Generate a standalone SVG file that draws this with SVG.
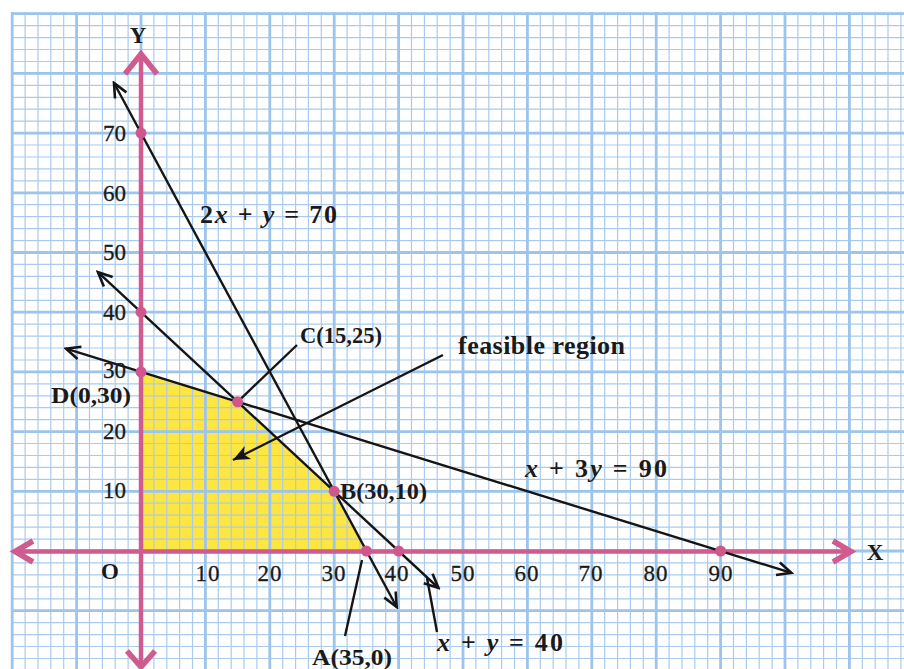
<svg xmlns="http://www.w3.org/2000/svg" width="904" height="669" viewBox="0 0 904 669">
<defs>
<style>
.minor{stroke:#aacbee;stroke-width:1.2;fill:none}
.major{stroke:#9cc4ec;stroke-width:2.8;fill:none}
.axis{stroke:#cf5b8f;stroke-width:4.5;fill:none}
.axhead{stroke:#cf5b8f;stroke-width:5.5;fill:none;stroke-linejoin:miter;stroke-linecap:butt}
.ln{stroke:#151515;stroke-width:2.4;fill:none}
.ptr{stroke:#151515;stroke-width:2.4;fill:none}
.pt{fill:#d0578d}
.tick{font-family:"Liberation Serif",serif;font-size:23px;fill:#1a1a1a;stroke:#1a1a1a;stroke-width:0.3}
.lbl{font-family:"Liberation Serif",serif;font-size:23px;font-weight:bold;fill:#1a1a1a}
.eq{font-family:"Liberation Serif",serif;font-size:26px;font-weight:bold;fill:#1a1a1a}
.it{font-style:italic}
</style>
<marker id="open" markerUnits="userSpaceOnUse" markerWidth="20" markerHeight="20" viewBox="-15 -8 17 16" refX="0" refY="0" orient="auto-start-reverse">
<path d="M-12,-5.5 L0,0 L-12,5.5" fill="none" stroke="#151515" stroke-width="2.2"/>
</marker>
<marker id="solid" markerUnits="userSpaceOnUse" markerWidth="20" markerHeight="20" viewBox="-16 -8 18 16" refX="0" refY="0" orient="auto">
<path d="M-15,-6.5 L0,0 L-15,6.5 L-11,0 Z" fill="#151515"/>
</marker>
</defs>
<rect width="904" height="669" fill="#ffffff"/>
<g id="feasible-region">
<polygon points="141,551 366.4,551 334.2,491.3 237.6,401.8 141,371.9" fill="#fde542"/>
</g>
<g id="grid">
<path class="minor" d="M25.1 12V669M38 12V669M50.8 12V669M63.7 12V669M89.5 12V669M102.4 12V669M115.2 12V669M128.1 12V669M153.9 12V669M166.8 12V669M179.6 12V669M192.5 12V669M218.3 12V669M231.2 12V669M244 12V669M256.9 12V669M282.7 12V669M295.6 12V669M308.4 12V669M321.3 12V669M347.1 12V669M360 12V669M372.8 12V669M385.7 12V669M411.5 12V669M424.4 12V669M437.2 12V669M450.1 12V669M475.9 12V669M488.8 12V669M501.6 12V669M514.5 12V669M540.3 12V669M553.2 12V669M566 12V669M578.9 12V669M604.7 12V669M617.6 12V669M630.4 12V669M643.3 12V669M669.1 12V669M682 12V669M694.8 12V669M707.7 12V669M733.5 12V669M746.4 12V669M759.2 12V669M772.1 12V669M797.9 12V669M810.8 12V669M823.6 12V669M836.5 12V669M862.3 12V669M875.2 12V669M888 12V669M900.9 12V669"/>
<path class="minor" d="M11 25.6H904M11 37.6H904M11 49.5H904M11 61.5H904M11 85.3H904M11 97.3H904M11 109.2H904M11 121.2H904M11 145H904M11 157H904M11 168.9H904M11 180.9H904M11 204.7H904M11 216.7H904M11 228.6H904M11 240.6H904M11 264.4H904M11 276.4H904M11 288.3H904M11 300.3H904M11 324.1H904M11 336.1H904M11 348H904M11 360H904M11 383.8H904M11 395.8H904M11 407.7H904M11 419.7H904M11 443.5H904M11 455.5H904M11 467.4H904M11 479.4H904M11 503.2H904M11 515.2H904M11 527.1H904M11 539.1H904M11 562.9H904M11 574.9H904M11 586.8H904M11 598.8H904M11 622.6H904M11 634.6H904M11 646.5H904M11 658.5H904"/>
<path class="major" d="M12.2 12V669M76.6 12V669M141 12V669M205.4 12V669M269.8 12V669M334.2 12V669M398.6 12V669M463 12V669M527.4 12V669M591.8 12V669M656.2 12V669M720.6 12V669M785 12V669M849.4 12V669"/>
<path class="major" d="M11 13.7H904M11 73.4H904M11 133.1H904M11 192.8H904M11 252.5H904M11 312.2H904M11 371.9H904M11 431.6H904M11 491.3H904M11 551H904M11 610.7H904"/>
</g>
<g id="axes">
<path class="axis" d="M15 551.5H851M141 54V667"/>
<polyline class="axhead" points="33,541 15,551.5 33,562"/>
<polyline class="axhead" points="833,541 851,551.5 833,562"/>
<polyline class="axhead" points="125,74 141,54 157,74"/>
<polyline class="axhead" points="127,651 141,667 155,651"/>
</g>
<g id="connectors">
<line class="ln" x1="114" y1="83" x2="396.7" y2="607" marker-start="url(#open)" marker-end="url(#open)"/>
<line class="ln" x1="97.9" y1="272.2" x2="438.5" y2="588" marker-start="url(#open)" marker-end="url(#open)"/>
<line class="ln" x1="66" y1="348.7" x2="791.4" y2="572.9" marker-start="url(#open)" marker-end="url(#open)"/>
<line class="ptr" x1="237.6" y1="401.8" x2="297" y2="345"/>
<line class="ptr" x1="443" y1="355" x2="233" y2="460" marker-end="url(#solid)"/>
<line class="ptr" x1="345" y1="636" x2="362" y2="560"/>
<line class="ptr" x1="437" y1="632" x2="427" y2="578"/>
</g>
<g id="points">
<circle class="pt" cx="141" cy="133.1" r="5.5"/>
<circle class="pt" cx="141" cy="312.2" r="5.5"/>
<circle class="pt" cx="141" cy="371.9" r="5.5"/>
<circle class="pt" cx="237.6" cy="401.8" r="5.5"/>
<circle class="pt" cx="334.2" cy="491.3" r="5.5"/>
<circle class="pt" cx="366.4" cy="551" r="5.5"/>
<circle class="pt" cx="398.6" cy="551" r="5.5"/>
<circle class="pt" cx="720.6" cy="551" r="5.5"/>
</g>
<g id="y-ticks" class="tick" text-anchor="end">
<text x="126" y="141">70</text>
<text x="126" y="201">60</text>
<text x="126" y="260">50</text>
<text x="126" y="320">40</text>
<text x="126" y="378">30</text>
<text x="126" y="439">20</text>
<text x="126" y="498">10</text>
</g>
<g id="x-ticks" class="tick" text-anchor="middle" letter-spacing="1">
<text x="208" y="581">10</text>
<text x="270" y="581">20</text>
<text x="334" y="581">30</text>
<text x="397" y="581">40</text>
<text x="463" y="581">50</text>
<text x="527" y="581">60</text>
<text x="591" y="581">70</text>
<text x="656" y="581">80</text>
<text x="721" y="581">90</text>
</g>
<g id="axis-labels" class="lbl">
<text x="138" y="43" text-anchor="middle">Y</text>
<text x="875" y="560" text-anchor="middle">X</text>
<text x="110" y="579" text-anchor="middle">O</text>
</g>
<g id="label-D"><text class="lbl" x="51" y="403" textLength="80" lengthAdjust="spacingAndGlyphs">D(0,30)</text></g>
<g id="label-C"><text class="lbl" x="300" y="343" textLength="82" lengthAdjust="spacingAndGlyphs">C(15,25)</text></g>
<g id="label-B"><text class="lbl" x="340" y="499" textLength="87" lengthAdjust="spacingAndGlyphs">B(30,10)</text></g>
<g id="label-A"><text class="lbl" x="312" y="665" textLength="80" lengthAdjust="spacingAndGlyphs">A(35,0)</text></g>
<g id="label-feasible"><text class="eq" x="458" y="354" textLength="167" lengthAdjust="spacing">feasible region</text></g>
<g id="label-eq1"><text class="eq" x="200" y="223" textLength="137" lengthAdjust="spacing">2<tspan class="it">x</tspan> + <tspan class="it">y</tspan> = 70</text></g>
<g id="label-eq2"><text class="eq" x="525" y="477" textLength="142" lengthAdjust="spacing"><tspan class="it">x</tspan> + 3<tspan class="it">y</tspan> = 90</text></g>
<g id="label-eq3"><text class="eq" x="437" y="651" textLength="126" lengthAdjust="spacing"><tspan class="it">x</tspan> + <tspan class="it">y</tspan> = 40</text></g>
</svg>
